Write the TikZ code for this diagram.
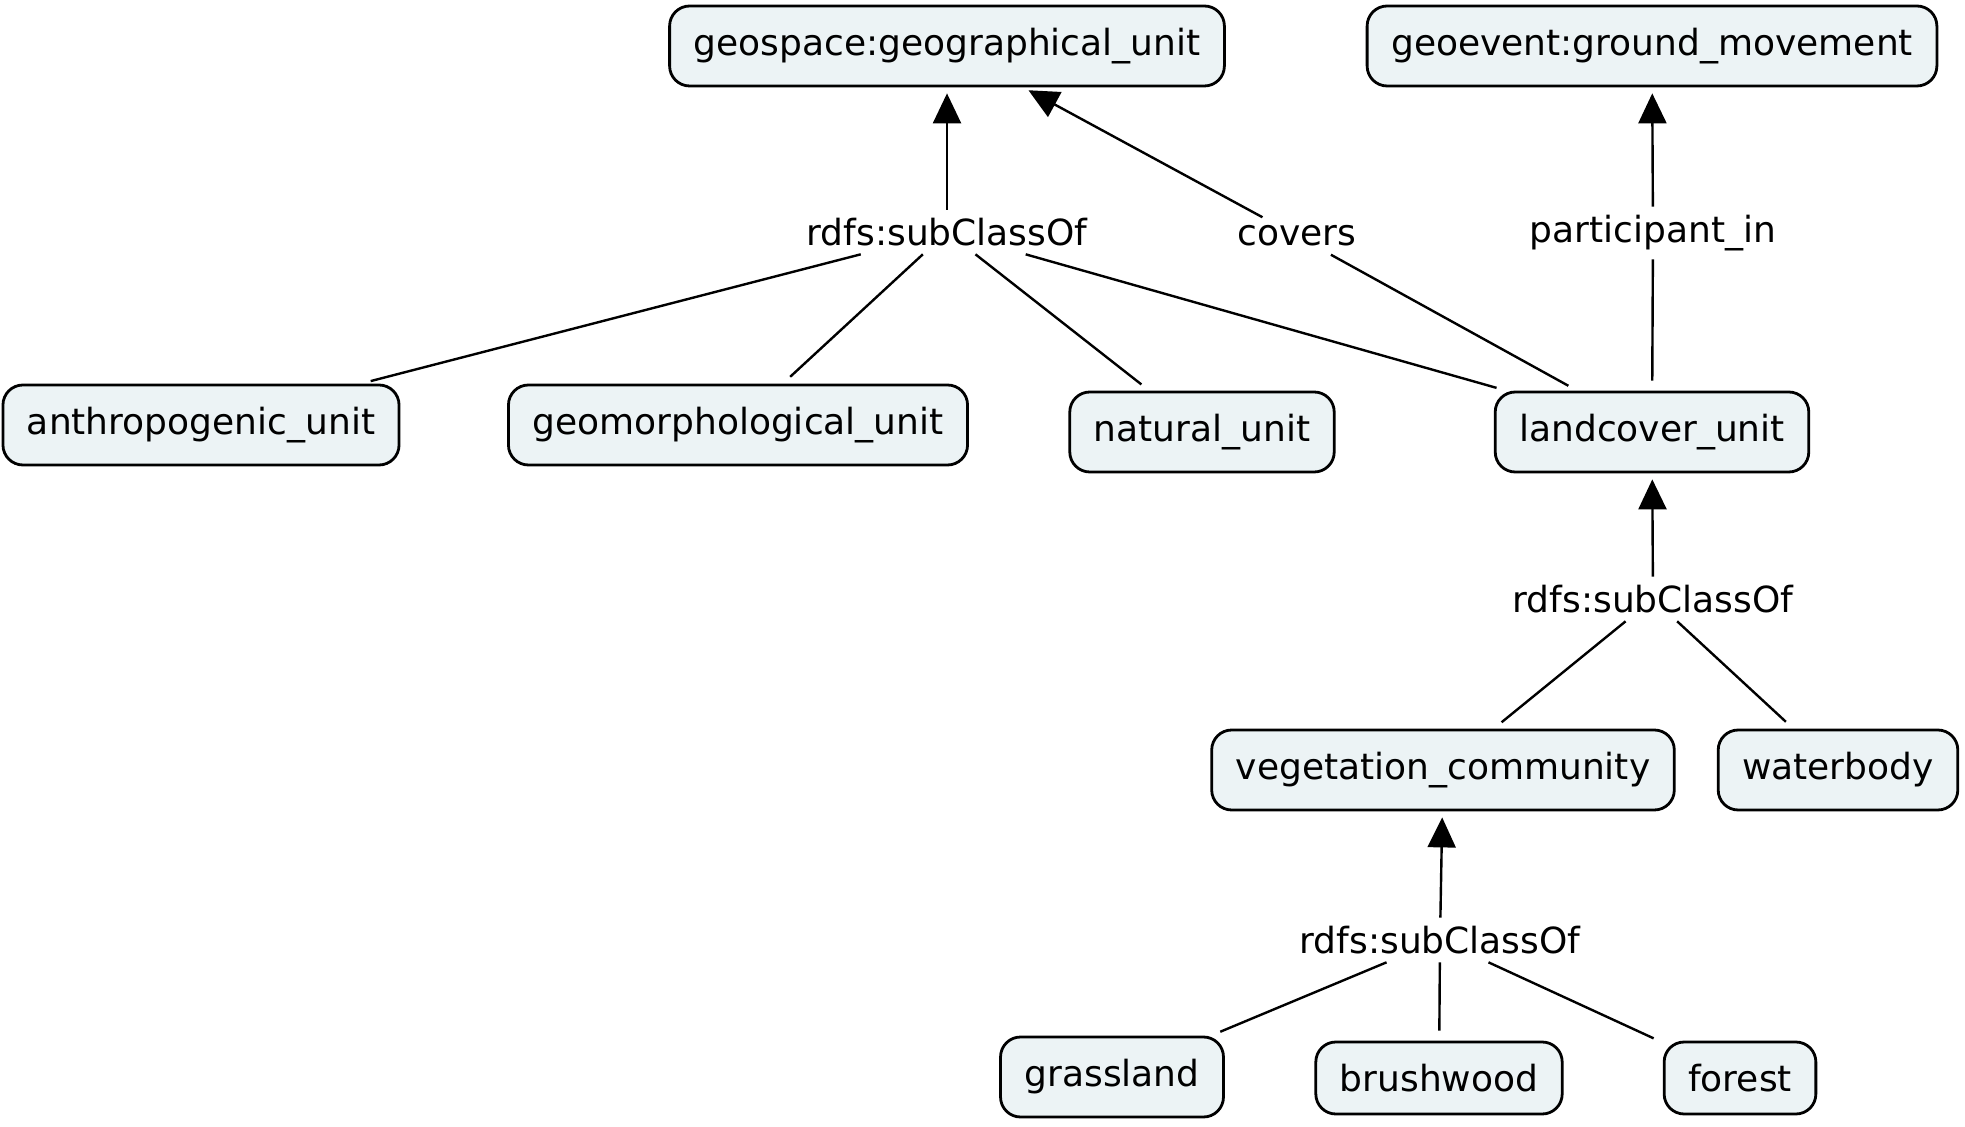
\documentclass[tikz,border=0pt]{standalone}
\usepackage{fontspec}
\setmainfont{DejaVu Sans}
\usetikzlibrary{arrows.meta}
\definecolor{cellfill}{RGB}{236,243,245}

\begin{document}
\begin{tikzpicture}[
    x=0.5pt, y=-0.5pt,
    every node/.style={font=\fontsize{18}{22}\selectfont},
    concept/.style={draw, line width=1.4pt, rounded corners=10pt, fill=cellfill,
      inner xsep=12pt, minimum height=40pt},
    link/.style={inner sep=4pt},
    arr/.style={-{Triangle[length=15pt, width=14pt]}, line width=1.2pt, shorten >=3pt},
    ln/.style={line width=1.2pt, shorten >=5pt}
  ]
  \useasboundingbox (0,0) rectangle (1965,1127);

  % concepts
  \node[concept] (geo) at (947,46) {geospace:geographical\_unit};
  \node[concept] (event) at (1652,46) {geoevent:ground\_movement};
  \node[concept] (anthro) at (201,425) {anthropogenic\_unit};
  \node[concept] (geomorph) at (738,425) {geomorphological\_unit};
  \node[concept] (natural) at (1202,432) {natural\_unit};
  \node[concept] (landcover) at (1652,432) {landcover\_unit};
  \node[concept] (veg) at (1443,770) {vegetation\_community};
  \node[concept] (water) at (1838,770) {waterbody};
  \node[concept] (grass) at (1112,1077) {grassland};
  \node[concept, minimum height=36pt] (brush) at (1439,1078) {brushwood};
  \node[concept, minimum height=36pt] (forest) at (1740,1078) {forest};

  % linking phrases
  \node[link] (sub1) at (947,232) {rdfs:subClassOf};
  \node[link] (covers) at (1297,236) {covers};
  \node[link] (partic) at (1653,233) {participant\_in};
  \node[link] (sub2) at (1653,599) {rdfs:subClassOf};
  \node[link] (sub3) at (1440,940) {rdfs:subClassOf};

  \draw[arr] (sub1) -- (geo);
  \draw[arr] (covers) -- (geo);
  \draw[arr] (partic) -- (event);
  \draw[arr] (sub2) -- (landcover);
  \draw[arr] (sub3) -- (veg);

  \draw[ln] (sub1) -- (anthro);
  \draw[ln] (sub1) -- (geomorph);
  \draw[ln] (sub1) -- (natural);
  \draw[ln] (sub1) -- (landcover);
  \draw[ln] (covers) -- (landcover);
  \draw[ln] (partic) -- (landcover);
  \draw[ln] (sub2) -- (veg);
  \draw[ln] (sub2) -- (water);
  \draw[ln] (sub3) -- (grass);
  \draw[ln] (sub3) -- (brush);
  \draw[ln] (sub3) -- (forest);
\end{tikzpicture}
\end{document}
